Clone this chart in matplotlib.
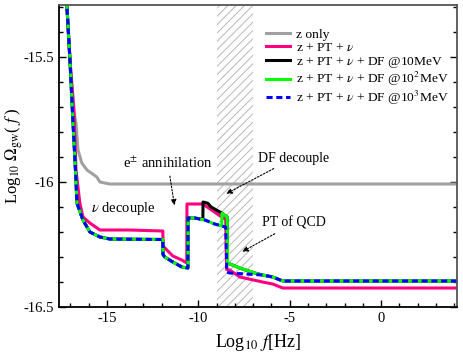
import matplotlib
matplotlib.use("Agg")
import matplotlib.pyplot as plt
from matplotlib.ticker import MultipleLocator, FormatStrFormatter

plt.rcParams['font.family'] = ['Liberation Serif', 'DejaVu Serif']
plt.rcParams['mathtext.fontset'] = 'stix'
plt.rcParams['axes.unicode_minus'] = False
plt.rcParams['hatch.linewidth'] = 0.7

# z only
f_z = [-17.4, -17.02, -16.86, -16.69, -16.58, -16.37, -16.09, -15.55, -15.38, -14.84, -12.0, -8.0, 4.5]
v_z = [-15.02, -15.51, -15.70, -15.764, -15.872, -15.924, -15.952, -15.98, -16.0, -16.008, -16.008, -16.008, -16.008]

# z + PT + nu
f_p = [-17.4, -17.19, -17.02, -16.80, -16.69, -16.48, -16.31, -15.93, -15.38, -13.74, -11.94, -11.93,
       -11.72, -11.39, -10.90, -10.63, -10.62, -9.75, -8.72, -8.50, -8.45, -8.28, -7.73, -6.48, -5.93, -5.38, 4.5]
v_p = [-15.02, -15.292, -15.512, -15.712, -15.952, -16.084, -16.14, -16.164, -16.192, -16.192, -16.196, -16.256,
       -16.272, -16.296, -16.312, -16.324, -16.088, -16.088, -16.14, -16.15, -16.35, -16.352, -16.38, -16.40, -16.408, -16.424, -16.424]

# DF @ 10^3 MeV
f_b = [-17.4, -17.19, -17.02, -16.86, -16.69, -16.64, -16.31, -15.93, -15.38, -14.84, -11.94, -11.93, -11.83,
       -11.39, -10.90, -10.57, -10.56, -10.19, -9.64, -9.10, -8.72, -8.50, -8.44, -8.28, -6.48, -5.93, -5.38, 4.5]
v_b = [-15.02, -15.292, -15.512, -15.752, -15.992, -16.084, -16.152, -16.2, -16.22, -16.228, -16.23, -16.29, -16.30,
       -16.32, -16.34, -16.344, -16.144, -16.144, -16.152, -16.168, -16.176, -16.18, -16.36, -16.364, -16.372, -16.38, -16.396, -16.396]

# DF @ 10^2 MeV
f_g = [-17.4, -17.19, -17.02, -16.86, -16.69, -16.64, -16.31, -15.93, -15.38, -14.84, -11.94, -11.93, -11.83,
       -11.39, -10.90, -10.57, -10.56, -10.19, -9.64, -9.10, -8.72, -8.70, -8.42, -8.40, -7.73, -6.91, -6.48, -5.93, -5.38, 4.5]
v_g = [-15.02, -15.292, -15.512, -15.752, -15.992, -16.084, -16.152, -16.2, -16.22, -16.228, -16.23, -16.29, -16.30,
       -16.32, -16.34, -16.344, -16.144, -16.144, -16.152, -16.168, -16.176, -16.125, -16.14, -16.324, -16.344, -16.364, -16.372, -16.38, -16.396, -16.396]

# DF @ 10 MeV
f_k = [-17.4, -17.19, -17.02, -16.86, -16.69, -16.64, -16.31, -15.93, -15.38, -14.84, -11.94, -11.93, -11.83,
       -11.39, -10.90, -10.57, -10.56, -10.19, -9.75, -9.74, -9.48, -9.30, -8.72, -8.70, -8.42, -8.40, -7.73, -6.91, -6.48, -5.93, -5.38, 4.5]
v_k = [-15.02, -15.292, -15.512, -15.752, -15.992, -16.084, -16.152, -16.2, -16.22, -16.228, -16.23, -16.29, -16.30,
       -16.32, -16.34, -16.344, -16.144, -16.144, -16.15, -16.08, -16.085, -16.10, -16.124, -16.125, -16.14, -16.324, -16.344, -16.364, -16.372, -16.38, -16.396, -16.396]

labels = ['z only', r'z + PT + $\nu$', r'z + PT + $\nu$ + DF @10MeV',
          r'z + PT + $\nu$ + DF @10$^2$MeV', r'z + PT + $\nu$ + DF @10$^3$MeV']

fig = plt.figure(figsize=(4.63, 3.52), dpi=100)
ax = fig.add_axes([0.1274, 0.1278, 0.8596, 0.858])

ax.axvspan(-9, -7, facecolor='white', edgecolor='#b8b8b8', hatch='////', lw=0, zorder=0)

ax.plot(f_z, v_z, color='#a0a0a0', lw=2.2, label=labels[0])
ax.plot(f_p, v_p, color='#ff0080', lw=2.2, label=labels[1])
ax.plot(f_k, v_k, color='black', lw=2.2, label=labels[2])
ax.plot(f_g, v_g, color='#00ff00', lw=2.2, label=labels[3])
ax.plot(f_b, v_b, color='#0000ff', lw=2.2, dashes=(2, 1.2), label=labels[4])

ax.set_xlim(-17.62, 4.15)
ax.set_ylim(-16.5, -15.292)
ax.xaxis.set_major_locator(MultipleLocator(5))
ax.xaxis.set_minor_locator(MultipleLocator(1))
ax.yaxis.set_major_locator(MultipleLocator(0.5))
ax.yaxis.set_minor_locator(MultipleLocator(0.1))
ax.yaxis.set_major_formatter(FormatStrFormatter('%g'))
ax.tick_params(which='both', direction='in', right=True, top=False, labelsize=10.5)
ax.tick_params(which='major', length=5, width=1)
ax.tick_params(which='minor', length=3, width=1)
for s in ['left', 'bottom']:
    ax.spines[s].set_linewidth(1.3)
for s in ['top', 'right']:
    ax.spines[s].set_color('#555555')
    ax.spines[s].set_linewidth(1.3)

ax.set_xlabel(r'Log$_{10}$ $f$[Hz]', fontsize=13, labelpad=5)
ax.set_ylabel(r'Log$_{10}$ $\Omega_{\rm gw}$( $f$ )', fontsize=12)
ax.yaxis.set_label_coords(-0.085, 0.5)

arr = dict(arrowstyle='-|>', linestyle=(0, (1.5, 1.5)), color='black', lw=0.8, mutation_scale=8)
ax.annotate(r'e$^{\pm}$ annihilation', xy=(-11.28, -16.104), xytext=(-11.67, -15.924),
            ha='center', va='center', fontsize=10.5, arrowprops=arr)
ax.annotate('DF decouple', xy=(-8.61, -16.052), xytext=(-4.78, -15.904),
            ha='center', va='center', fontsize=10, arrowprops=arr)
ax.annotate('PT of QCD', xy=(-7.73, -16.284), xytext=(-4.75, -16.164),
            ha='center', va='center', fontsize=10, arrowprops=arr)
ax.text(-14.10, -16.104, r'$\nu$ decouple', ha='center', va='center', fontsize=10.5)

ax.legend(loc='upper left', bbox_to_anchor=(0.503, 0.945), frameon=False, fontsize=9.7,
          handlelength=1.8, handletextpad=0.45, labelspacing=0.05, borderpad=0)

fig.savefig('out.png', dpi=100)
